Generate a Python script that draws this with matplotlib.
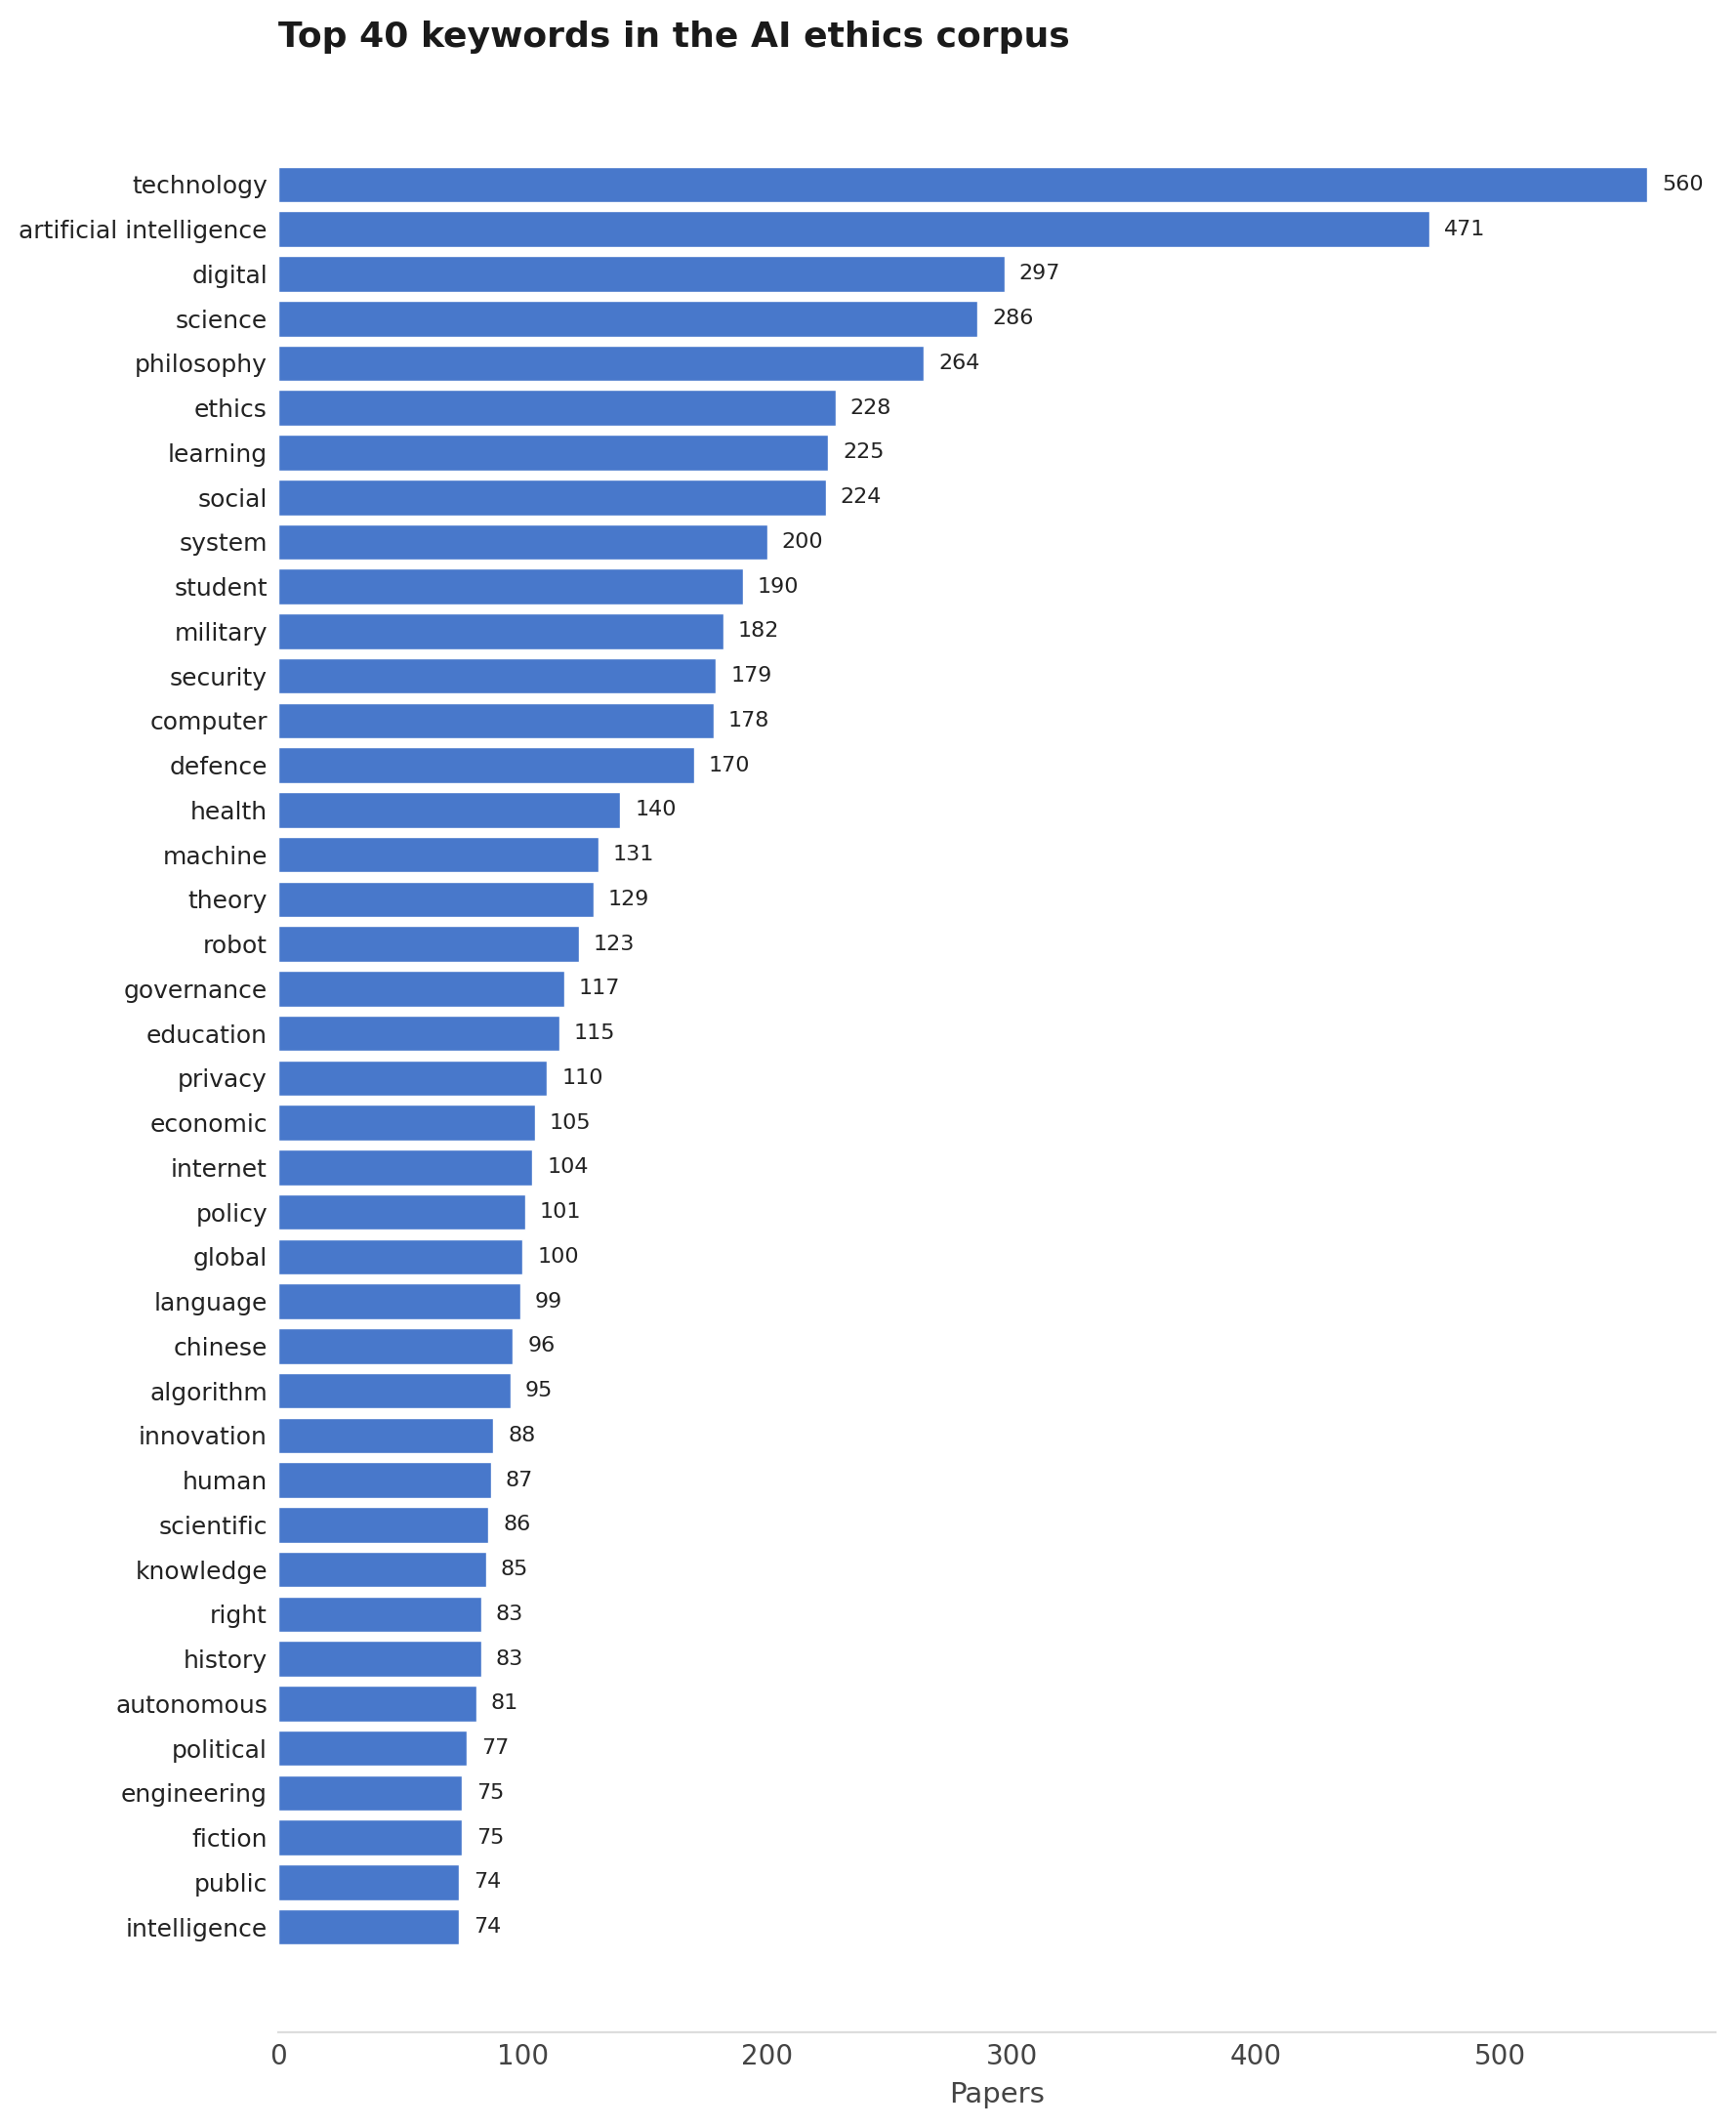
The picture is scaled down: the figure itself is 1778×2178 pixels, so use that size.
import matplotlib
matplotlib.use("Agg")
import matplotlib.pyplot as plt

# top 40 keywords and paper counts
keywords = [
    "technology", "artificial intelligence", "digital", "science", "philosophy",
    "ethics", "learning", "social", "system", "student",
    "military", "security", "computer", "defence", "health",
    "machine", "theory", "robot", "governance", "education",
    "privacy", "economic", "internet", "policy", "global",
    "language", "chinese", "algorithm", "innovation", "human",
    "scientific", "knowledge", "right", "history", "autonomous",
    "political", "engineering", "fiction", "public", "intelligence",
]
papers = [
    560, 471, 297, 286, 264,
    228, 225, 224, 200, 190,
    182, 179, 178, 170, 140,
    131, 129, 123, 117, 115,
    110, 105, 104, 101, 100,
    99, 96, 95, 88, 87,
    86, 85, 83, 83, 81,
    77, 75, 75, 74, 74,
]

fig = plt.figure(figsize=(8.89, 10.89), dpi=200)
ax = fig.add_axes([0.1603, 0.0445, 0.8279, 0.9183])

pos = range(len(keywords))
ax.barh(pos, papers, height=0.8, color="#4878cb", edgecolor="white", linewidth=0.5)
for i, v in zip(pos, papers):
    ax.text(v + 6, i, f"{v}", va="center", ha="left", fontsize=8, color="#222222")

ax.set_yticks(list(pos))
ax.set_yticklabels(keywords, fontsize=9, color="#222222")
ax.set_ylim(len(keywords) - 1 + 2.36, -2.36)
ax.set_xlim(0, max(papers) * 1.05)
ax.set_xticks([0, 100, 200, 300, 400, 500])
ax.tick_params(axis="x", length=0, labelsize=10, labelcolor="#444444", pad=4)
ax.tick_params(axis="y", length=0, pad=4)

for s in ("top", "right", "left"):
    ax.spines[s].set_visible(False)
ax.spines["bottom"].set_color("#dddddd")
ax.spines["bottom"].set_linewidth(0.8)

ax.set_xlabel("Papers", fontsize=10.5, color="#444444", labelpad=4)
ax.set_title("Top 40 keywords in the AI ethics corpus", loc="left",
             fontsize=13, fontweight="bold", color="#1a1a1a", pad=12)

fig.savefig("out.png", dpi=200)
